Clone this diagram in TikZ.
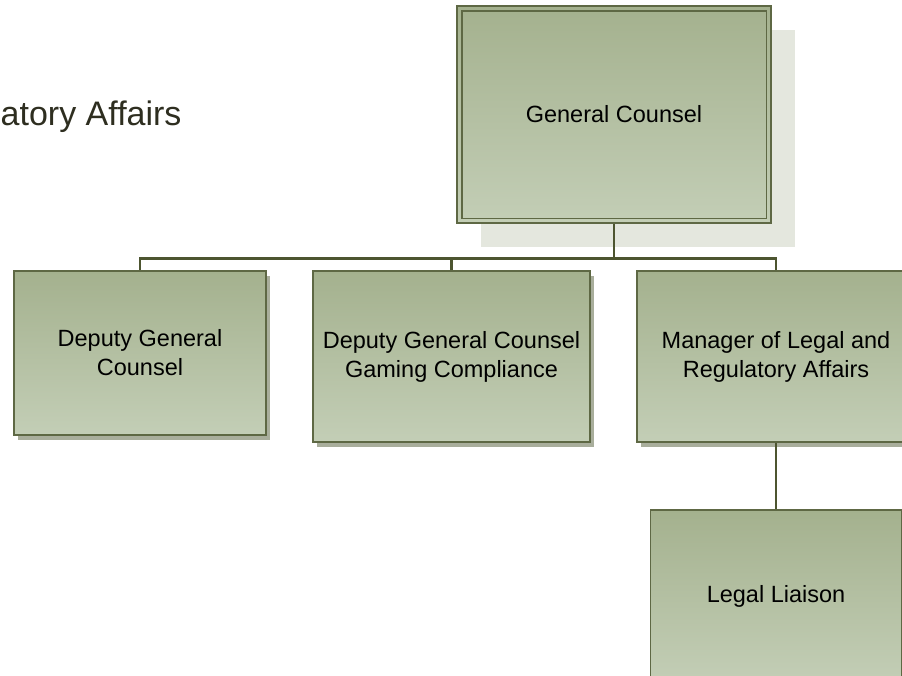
\documentclass[tikz,border=0pt]{standalone}
\usepackage{fontspec}
\setmainfont{Liberation Sans}
\usetikzlibrary{shadows}
\definecolor{topfill}{HTML}{A4B18E}
\definecolor{botfill}{HTML}{C3CEB6}
\definecolor{boxline}{HTML}{5E6844}
\definecolor{conline}{HTML}{4D5530}
\definecolor{smallshadow}{HTML}{A9AE9C}
\definecolor{bigshadow}{HTML}{E4E7DE}
\definecolor{titlecol}{HTML}{2E2E20}
\tikzset{
  orgbox/.style={draw=boxline, line width=1.6pt, top color=topfill, bottom color=botfill,
    align=center, inner sep=0pt, font=\fontsize{23.5}{29}\selectfont, text=black},
  smallshadowed/.style={drop shadow={shadow xshift=4pt, shadow yshift=-4.5pt, fill=smallshadow, opacity=1}},
  bigshadowed/.style={drop shadow={shadow xshift=24pt, shadow yshift=-24pt, fill=bigshadow, opacity=1}},
  conn/.style={draw=conline, line width=2.7pt},
}
\begin{document}
\begin{tikzpicture}[x=1pt, y=-1pt]
\useasboundingbox (0,0) rectangle (902,675);
\clip (0,0) rectangle (902,675);
% title fragment
\node[anchor=base west, inner sep=0pt, text=titlecol, font=\fontsize{34}{40}\selectfont] (title) at (0.5,125) {atory Affairs};
% boxes
\node[orgbox, bigshadowed, minimum width=314pt, minimum height=217pt] (gc) at (614,114.5) {General Counsel};
\draw[draw=boxline, line width=1.6pt] ([shift={(5.5,5.5)}]gc.north west) rectangle ([shift={(-5.5,-5.5)}]gc.south east);
\node[orgbox, smallshadowed, minimum width=252pt, minimum height=164pt] (dgc) at (140,353) {Deputy General\\Counsel};
\node[orgbox, smallshadowed, minimum width=277pt, minimum height=171pt] (gcc) at (451.5,356.5) {Deputy General Counsel\\Gaming Compliance};
\node[orgbox, smallshadowed, minimum width=278pt, minimum height=171pt] (mgr) at (776,356.5) {Manager of Legal and\\Regulatory Affairs};
\node[orgbox, smallshadowed, minimum width=251pt, minimum height=172pt, text depth=4pt] (ll) at (776,596) {Legal Liaison};
% connectors
\coordinate (bus) at (614,258.5);
\draw[conn] (gc.south) -- (bus);
\draw[conn] (dgc.north) |- (bus);
\draw[conn] (gcc.north) |- (bus);
\draw[conn] (mgr.north) |- (bus);
\draw[conn] (mgr.south) -- (ll.north);
\end{tikzpicture}
\end{document}
